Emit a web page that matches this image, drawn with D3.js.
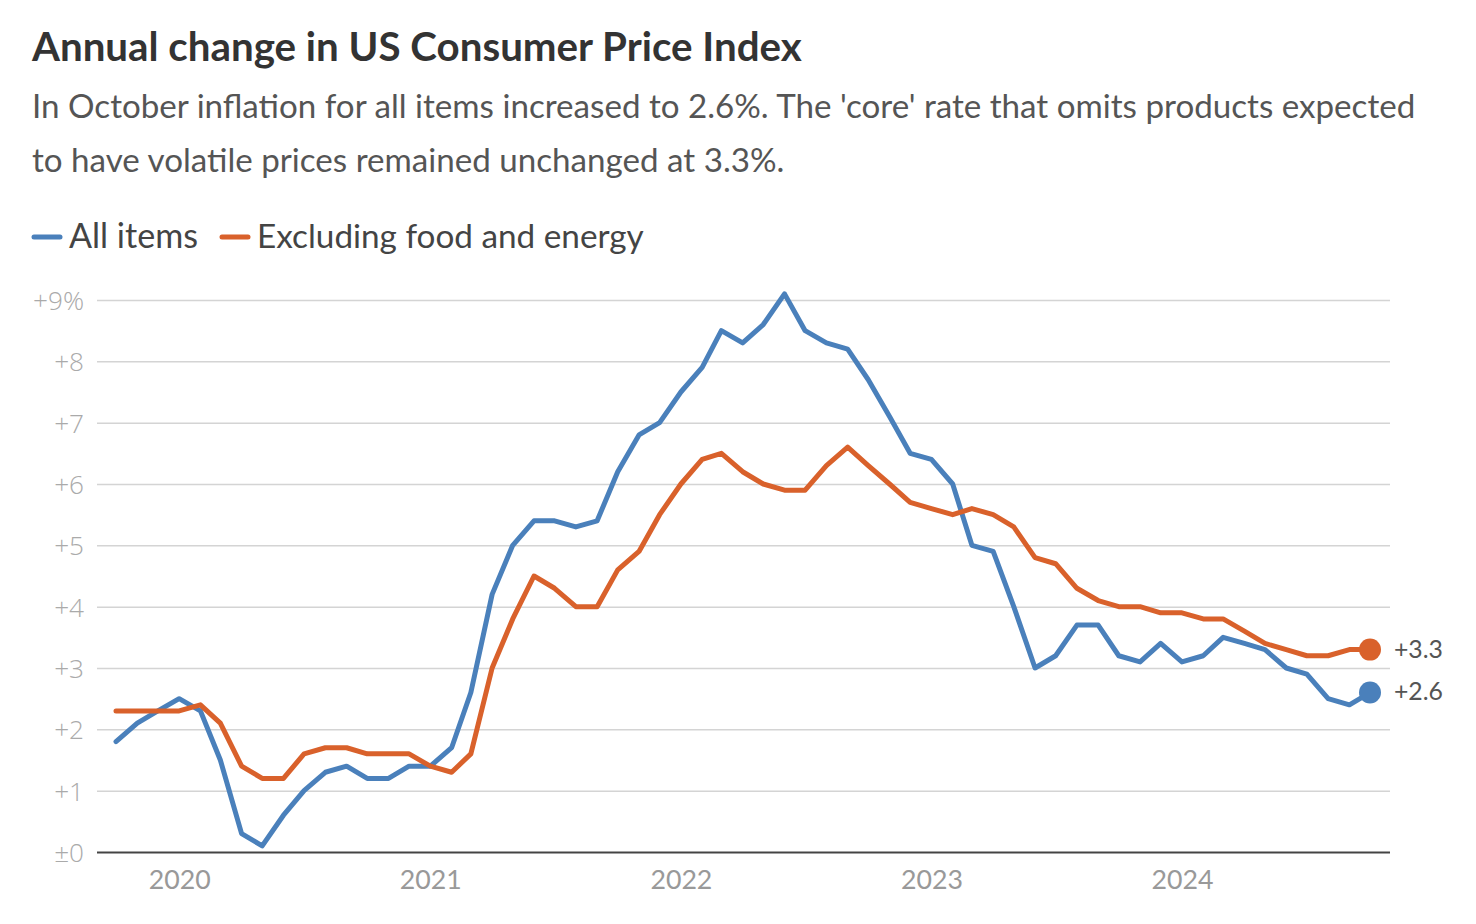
<!DOCTYPE html>
<html><head><meta charset="utf-8">
<script src="https://cdn.jsdelivr.net/npm/d3@7"></script>
<style>
body{margin:0;background:#fff;}
svg{display:block;}
</style></head>
<body>
<svg id="c" width="1476" height="924"></svg>
<script>
const months = d3.timeMonths(new Date(2019,9,1), new Date(2024,10,1)); // Oct 2019 .. Oct 2024
const allItems = [1.8,2.1,2.3,
 2.5,2.3,1.5,0.3,0.1,0.6,1.0,1.3,1.4,1.2,1.2,1.4,
 1.4,1.7,2.6,4.2,5.0,5.4,5.4,5.3,5.4,6.2,6.8,7.0,
 7.5,7.9,8.5,8.3,8.6,9.1,8.5,8.3,8.2,7.7,7.1,6.5,
 6.4,6.0,5.0,4.9,4.0,3.0,3.2,3.7,3.7,3.2,3.1,3.4,
 3.1,3.2,3.5,3.4,3.3,3.0,2.9,2.5,2.4,2.6];
const core = [2.3,2.3,2.3,
 2.3,2.4,2.1,1.4,1.2,1.2,1.6,1.7,1.7,1.6,1.6,1.6,
 1.4,1.3,1.6,3.0,3.8,4.5,4.3,4.0,4.0,4.6,4.9,5.5,
 6.0,6.4,6.5,6.2,6.0,5.9,5.9,6.3,6.6,6.3,6.0,5.7,
 5.6,5.5,5.6,5.5,5.3,4.8,4.7,4.3,4.1,4.0,4.0,3.9,
 3.9,3.8,3.8,3.6,3.4,3.3,3.2,3.2,3.3,3.3];
const yTicks = [0,1,2,3,4,5,6,7,8,9];
const yearTicks = [2020,2021,2022,2023,2024];
const seriesNames = ["All items","Excluding food and energy"];
const colors = ["#4a80bb","#d9612b"];
const title = "Annual change in US Consumer Price Index";
const subtitle = ["In October inflation for all items increased to 2.6%. The 'core' rate that omits products expected",
                  "to have volatile prices remained unchanged at 3.3%."];

const svg = d3.select("#c");
const font = "Lato, 'Open Sans', sans-serif";

function fitText(sel, w){
  const n = sel.node(); const l = n.getComputedTextLength();
  const fs = parseFloat(sel.attr("font-size"));
  const nfs = fs * w / l;
  sel.attr("font-size", nfs);
  return nfs;
}

const t = svg.append("text").attr("x",32).attr("y",61).attr("font-family",font).attr("font-weight",700)
  .attr("font-size",34).attr("fill","#333").text(title);
fitText(t, 770);
let subFs = 29;
subtitle.forEach((s,i)=>{
  const st = svg.append("text").attr("x",32).attr("y",118+i*54).attr("font-family",font).attr("font-weight",400)
   .attr("font-size",subFs).attr("fill","#555").text(s);
  if(i===0) subFs = fitText(st, 1384);
});

// legend
const lg = svg.append("g");
const legX = [32, 220];
seriesNames.forEach((n,i)=>{
  lg.append("line").attr("x1",legX[i]+2).attr("x2",legX[i]+28).attr("y1",237).attr("y2",237)
    .attr("stroke",colors[i]).attr("stroke-width",5).attr("stroke-linecap","round");
  const tt = lg.append("text").attr("x",legX[i]+37).attr("y",248).attr("font-family",font)
    .attr("font-size",31).attr("fill","#444").text(n);
  fitText(tt, i===0?129:387);
});

const x = d3.scaleTime().domain([new Date(2019,9,1), new Date(2024,9,1)]).range([116,1370]);
const y = d3.scaleLinear().domain([0,9]).range([852,300]);

const yAxis = d3.axisLeft(y).tickValues(yTicks).tickSize(-(1390-97))
  .tickFormat(d => d===0 ? "±0" : d===9 ? "+9%" : "+"+d);
const ga = svg.append("g").attr("transform","translate(97,0)").call(yAxis);
ga.select(".domain").remove();
ga.selectAll(".tick line").attr("stroke","#d4d4d4").attr("stroke-width",1.5);
ga.selectAll(".tick text").attr("x",-13).attr("dy","0.36em").attr("font-family","'Open Sans', sans-serif")
  .attr("font-weight",300).attr("font-size",21).attr("fill","#aaa");
const topLab = ga.selectAll(".tick").filter(d=>d===9).select("text");
const yfs = fitText(topLab, 51);
ga.selectAll(".tick text").attr("font-size", yfs);
ga.selectAll(".tick").filter(d=>d===0).select("line").attr("stroke","#444").attr("stroke-width",2);

const xAxis = d3.axisBottom(x).tickValues(yearTicks.map(yr=>new Date(yr,0,1))).tickSize(0).tickFormat(d3.timeFormat("%Y"));
const gx = svg.append("g").attr("transform","translate(0,852)").call(xAxis);
gx.select(".domain").remove();
gx.selectAll(".tick text").attr("dy",0).attr("y",37).attr("font-family",font).attr("font-size",24).attr("fill","#999");
const xfs = fitText(gx.select(".tick text"), 62);
gx.selectAll(".tick text").attr("font-size", xfs);

const line = d3.line().x((d,i)=>x(months[i])).y(d=>y(d));
[allItems, core].forEach((s,i)=>{
  svg.append("path").datum(s).attr("d",line).attr("fill","none").attr("stroke",colors[i])
    .attr("stroke-width",5).attr("stroke-linejoin","round").attr("stroke-linecap","round");
});
[core, allItems].forEach((s,k)=>{
  const i = k===0?1:0;
  const v = s[s.length-1];
  svg.append("circle").attr("cx",x(months[s.length-1])).attr("cy",y(v)).attr("r",11).attr("fill",colors[i]);
  const lt = svg.append("text").attr("x",1394).attr("y",y(v)-1).attr("dy","0.36em").attr("font-family",font)
    .attr("font-size",23).attr("fill","#555").text("+"+v.toFixed(1));
  fitText(lt, 49);
});
</script>
</body></html>
